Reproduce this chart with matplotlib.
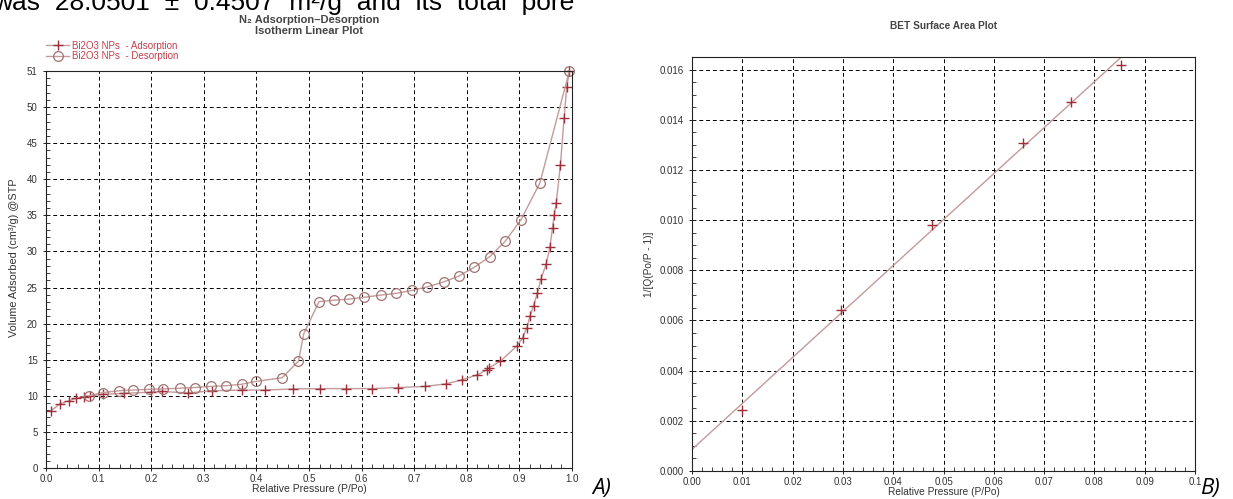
import numpy as np
import matplotlib
matplotlib.use("Agg")
import matplotlib.pyplot as plt
from matplotlib.ticker import MultipleLocator

plt.rcParams['font.family'] = ['Liberation Sans', 'DejaVu Sans']

# N2 isotherm - adsorption branch
ads_p = [0.009, 0.027, 0.043, 0.057, 0.072, 0.083, 0.108, 0.149, 0.200, 0.220,
         0.270, 0.316, 0.372, 0.416, 0.470, 0.520, 0.570, 0.620, 0.670, 0.720,
         0.760, 0.790, 0.820, 0.838, 0.843, 0.864, 0.895, 0.906, 0.914, 0.920,
         0.927, 0.934, 0.941, 0.951, 0.958, 0.963, 0.966, 0.970, 0.978, 0.985,
         0.990, 0.995]
ads_v = [7.9, 8.9, 9.3, 9.65, 9.9, 10.0, 10.2, 10.35, 10.5, 10.6,
         10.4, 10.7, 10.8, 10.8, 10.95, 11.0, 11.0, 11.0, 11.15, 11.3,
         11.65, 12.2, 12.9, 13.6, 13.9, 14.8, 16.9, 18.0, 19.4, 21.0,
         22.5, 24.2, 26.2, 28.3, 30.6, 33.3, 35.0, 36.7, 42.0, 48.5,
         52.8, 55.0]

# desorption branch
des_p = [0.995, 0.939, 0.903, 0.873, 0.844, 0.814, 0.785, 0.757, 0.725, 0.696,
         0.666, 0.636, 0.605, 0.576, 0.548, 0.519, 0.490, 0.480, 0.449, 0.399,
         0.372, 0.342, 0.313, 0.283, 0.254, 0.223, 0.196, 0.166, 0.139, 0.108,
         0.081]
des_v = [55.0, 39.5, 34.4, 31.4, 29.3, 27.8, 26.6, 25.8, 25.1, 24.6,
         24.2, 23.95, 23.65, 23.4, 23.25, 23.05, 18.6, 14.8, 12.5, 12.0,
         11.6, 11.4, 11.3, 11.15, 11.05, 10.95, 10.9, 10.8, 10.7, 10.45,
         10.0]

# BET plot points
bet_p = [0.0099, 0.0296, 0.0478, 0.0658, 0.0753, 0.0852]
bet_q = [0.00245, 0.00640, 0.00981, 0.01306, 0.01469, 0.01620]

left_yticks = [0, 5, 10, 15, 20, 25, 30, 35, 40, 45, 50, 55]
left_ylabels = ['0', '5', '10', '15', '20', '25', '30', '35', '40', '45', '50', '51']
left_xlabels = ['0.0', '0.1', '0.2', '0.3', '0.4', '0.5', '0.6', '0.7', '0.8', '0.9', '1.0']
right_xlabels = ['0.00', '0.01', '0.02', '0.03', '0.04', '0.05', '0.06', '0.07', '0.08', '0.09', '0.1']

W, H = 1233, 499
mark_col = '#9e2f3a'
line_col = '#c49a9a'
circ_col = '#a07272'
txt_col = '#333333'

fig = plt.figure(figsize=(W / 100, H / 100), dpi=100)


def px_axes(x0, x1, top, bot):
    return fig.add_axes([x0 / W, 1 - bot / H, (x1 - x0) / W, (bot - top) / H])


def style(ax):
    for s in ax.spines.values():
        s.set_color('#222222')
        s.set_linewidth(0.8)
    ax.grid(True, which='major', color='black', linestyle=(0, (4, 3)), linewidth=0.7)
    ax.tick_params(which='major', direction='inout', length=5, width=0.7,
                   labelsize=7, labelcolor=txt_col, color='#222222')
    ax.tick_params(which='minor', direction='in', length=3, width=0.6, color='#222222')
    ax.tick_params(axis='x', which='major', pad=2)
    ax.set_axisbelow(True)


# ---- A) isotherm ----
ax1 = px_axes(46, 572, 71, 468)
style(ax1)
ax1.plot(ads_p, ads_v, color=line_col, linewidth=1, marker='+', markersize=7,
         markeredgecolor=mark_col, markeredgewidth=1, clip_on=False,
         label='Bi2O3 NPs  - Adsorption')
ax1.plot(des_p, des_v, color=line_col, linewidth=1, marker='o', markersize=7,
         markerfacecolor='none', markeredgecolor=circ_col, markeredgewidth=0.9,
         clip_on=False, label='Bi2O3 NPs  - Desorption')
ax1.set_xlim(0, 1)
ax1.set_ylim(0, 55)
ax1.set_xticks(np.linspace(0, 1, 11))
ax1.set_xticklabels(left_xlabels)
ax1.set_yticks(left_yticks)
ax1.set_yticklabels(left_ylabels)
ax1.xaxis.set_minor_locator(MultipleLocator(0.02))
ax1.yaxis.set_minor_locator(MultipleLocator(1))
ax1.set_xlabel('Relative Pressure (P/Po)', fontsize=7.5, color=txt_col, labelpad=0)
ax1.set_ylabel('Volume Adsorbed (cm³/g) @STP', fontsize=7.8, color=txt_col)
ax1.yaxis.set_label_coords(-0.052, 0.53)
ax1.set_title('N₂ Adsorption–Desorption\nIsotherm Linear Plot', fontsize=8,
              fontweight='bold', color='#444444', pad=27, linespacing=1.05)
leg = ax1.legend(loc='lower left', bbox_to_anchor=(0, 1.025), frameon=False,
                 fontsize=7, handlelength=2.4, handletextpad=0.3,
                 labelspacing=0.05, borderpad=0, borderaxespad=0)
for t in leg.get_texts():
    t.set_color('#c0404c')

# ---- B) BET plot ----
ax2 = px_axes(692, 1195, 57, 471)
style(ax2)
slope, icpt = np.polyfit(bet_p, bet_q, 1)
fit_x = np.array([0.0, 0.1])
ax2.plot(fit_x, slope * fit_x + icpt, color=line_col, linewidth=1)
ax2.plot(bet_p, bet_q, linestyle='none', marker='+', markersize=7,
         markeredgecolor=mark_col, markeredgewidth=1)
ax2.set_xlim(0, 0.1)
ax2.set_ylim(0, 0.0165)
ax2.set_xticks(np.linspace(0, 0.1, 11))
ax2.set_xticklabels(right_xlabels)
ax2.set_yticks(np.arange(0, 0.0161, 0.002))
ax2.set_yticklabels(['%.3f' % v for v in np.arange(0, 0.0161, 0.002)])
ax2.xaxis.set_minor_locator(MultipleLocator(0.002))
ax2.yaxis.set_minor_locator(MultipleLocator(0.0005))
ax2.set_xlabel('Relative Pressure (P/Po)', fontsize=7.3, color=txt_col, labelpad=0)
ax2.set_ylabel('1/[Q(Po/P - 1)]', fontsize=7.3, color=txt_col, labelpad=4)
ax2.set_title('BET Surface Area Plot', fontsize=7.3, fontweight='bold',
              color='#444444', pad=20)

# panel letters and the clipped text line from the paper
fig.text(592 / W, 1 - 494 / H, 'A)', fontsize=16, style='italic',
         family=['Open Sans', 'DejaVu Sans'])
fig.text(1200 / W, 1 - 494 / H, 'B)', fontsize=16, style='italic',
         family=['Open Sans', 'DejaVu Sans'])
fig.text(-7 / W, 1 - 10 / H, 'was  28.0501  ±  0.4507  m²/g  and  its  total  pore',
         fontsize=19, color='black')

fig.savefig('out.png', dpi=100)
